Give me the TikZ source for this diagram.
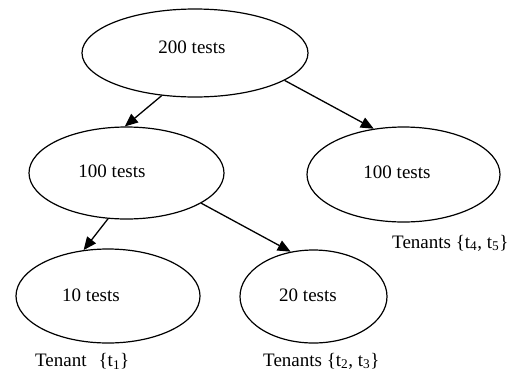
\documentclass[tikz,border=0pt]{standalone}
\usepackage{fontspec}
\setmainfont{Liberation Serif}
\usetikzlibrary{shapes.geometric,arrows.meta}
\tikzset{
  oval/.style={draw, ellipse, line width=1.2pt, inner sep=0pt},
  lbl/.style={inner sep=0pt, font=\fontsize{19}{22}\selectfont},
  link/.style={line width=1.3pt, -{Triangle[length=13pt,width=11pt]}}
}
\begin{document}
\begin{tikzpicture}[x=1pt,y=-1pt]
\useasboundingbox (0,0) rectangle (508,373);
\node[oval, minimum width=226pt, minimum height=88pt] (top) at (195,53) {};
\node[oval, minimum width=195pt, minimum height=92pt] (ml) at (126.5,173) {};
\node[oval, minimum width=193pt, minimum height=95pt] (mr) at (403.5,174.5) {};
\node[oval, minimum width=184pt, minimum height=94pt] (bl) at (108,296) {};
\node[oval, minimum width=147pt, minimum height=93pt] (br) at (313.5,296.5) {};
\node[lbl] (ttop) at (192,47) {200 tests};
\node[lbl] (tml) at (112,171) {100 tests};
\node[lbl] (tmr) at (397,172) {100 tests};
\node[lbl] (tbl) at (91,295) {10 tests};
\node[lbl] (tbr) at (308,295) {20 tests};
\node[lbl, anchor=west] (ten1) at (35,361) {Tenant\hspace{12pt}\{t\textsubscript{1}\}};
\node[lbl, anchor=west] (ten23) at (263,361) {Tenants \{t\textsubscript{2}, t\textsubscript{3}\}};
\node[lbl, anchor=west] (ten45) at (392,243) {Tenants \{t\textsubscript{4}, t\textsubscript{5}\}};
\draw[link] (top.232) -- (ml.92);
\draw[link] (top.343) -- (mr.123);
\draw[link] (ml.248) -- (bl.118);
\draw[link] (ml.338) -- (br.117);
\end{tikzpicture}
\end{document}
